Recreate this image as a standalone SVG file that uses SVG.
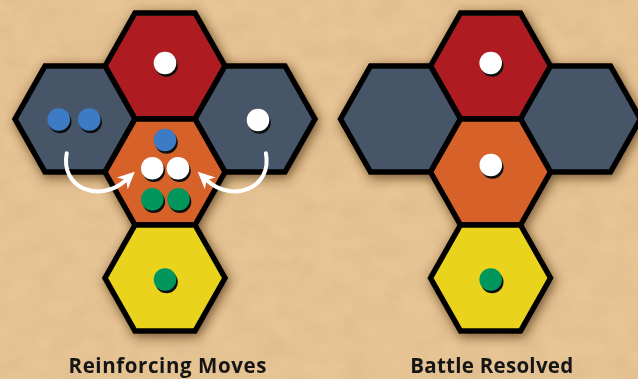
<svg xmlns="http://www.w3.org/2000/svg" xmlns:xlink="http://www.w3.org/1999/xlink" width="638" height="379" viewBox="0 0 638 379">
  <style>
    .hex { stroke: #000; stroke-width: 5.5; stroke-linejoin: miter; }
    .red { fill: #ae1f24; }
    .grey { fill: #475467; }
    .orange { fill: #d6622a; }
    .yellow { fill: #e9d31b; }
    .arrow { fill: none; stroke: #fff; stroke-width: 4; stroke-linecap: round; }
    .label { font-family: "Open Sans", "Liberation Sans", sans-serif; font-weight: 700; font-size: 20.5px; fill: #151515; text-anchor: middle; }
  </style>
  <defs>
    <path id="hexshape" d="M-60,0 L-30,-53 L30,-53 L60,0 L30,53 L-30,53 Z"/>
    <g id="dotWhite"><circle cx="1.5" cy="2.5" r="11.3" fill="#111"/><circle r="11.3" fill="#fff"/></g>
    <g id="dotBlue"><circle cx="1.5" cy="2.5" r="11.3" fill="#111"/><circle r="11.3" fill="#3d7cc4"/></g>
    <g id="dotGreen"><circle cx="1.5" cy="2.5" r="11.3" fill="#111"/><circle r="11.3" fill="#00965c"/></g>
    <marker id="head" markerUnits="userSpaceOnUse" markerWidth="20" markerHeight="20" viewBox="0 -10 20 20" refX="5" refY="0" orient="auto" overflow="visible">
      <path d="M0,-8 L17,0 L0,8 L5,0 Z" fill="#fff"/>
    </marker>
    <filter id="shadow" x="-20%" y="-20%" width="140%" height="140%">
      <feDropShadow dx="2" dy="3" stdDeviation="6" flood-color="#4a2e12" flood-opacity="0.75"/>
    </filter>
    <filter id="paper" x="0" y="0" width="100%" height="100%">
      <feTurbulence type="fractalNoise" baseFrequency="0.035 0.05" numOctaves="3" seed="7" result="n"/>
      <feColorMatrix in="n" type="matrix" values="0 0 0 0 0.55  0 0 0 0 0.38  0 0 0 0 0.2  0 0 0 0.45 -0.12" result="c"/>
      <feComposite in="c" in2="SourceGraphic" operator="in"/>
    </filter>
  </defs>

  <rect width="638" height="379" fill="#e8c595"/>
  <rect width="638" height="379" fill="#e8c595" filter="url(#paper)" opacity="0.8"/>

  <g id="cluster-left" filter="url(#shadow)">
    <g id="L-red"><use href="#hexshape" x="165" y="66" class="hex red"/><use href="#dotWhite" x="165" y="63"/></g>
    <g id="L-grey-left"><use href="#hexshape" x="75" y="119" class="hex grey"/><use href="#dotBlue" x="58.7" y="119.5"/><use href="#dotBlue" x="89.2" y="119.5"/></g>
    <g id="L-grey-right"><use href="#hexshape" x="255" y="119" class="hex grey"/><use href="#dotWhite" x="258" y="120"/></g>
    <g id="L-orange"><use href="#hexshape" x="165" y="172" class="hex orange"/><use href="#dotBlue" x="165" y="140"/><use href="#dotWhite" x="152.3" y="168.3"/><use href="#dotWhite" x="178" y="168.3"/><use href="#dotGreen" x="152.3" y="199.3"/><use href="#dotGreen" x="178.5" y="199.3"/></g>
    <g id="L-yellow"><use href="#hexshape" x="165" y="278" class="hex yellow"/><use href="#dotGreen" x="165" y="279.5"/></g>
  </g>

  <g id="cluster-right" filter="url(#shadow)">
    <g id="R-red"><use href="#hexshape" x="490.5" y="66" class="hex red"/><use href="#dotWhite" x="490.7" y="63"/></g>
    <g id="R-grey-left"><use href="#hexshape" x="400.5" y="119" class="hex grey"/></g>
    <g id="R-grey-right"><use href="#hexshape" x="580.5" y="119" class="hex grey"/></g>
    <g id="R-orange"><use href="#hexshape" x="490.5" y="172" class="hex orange"/><use href="#dotWhite" x="490.8" y="165"/></g>
    <g id="R-yellow"><use href="#hexshape" x="490.5" y="278" class="hex yellow"/><use href="#dotGreen" x="490.7" y="279.5"/></g>
  </g>

  <g id="connectors">
    <path class="arrow" d="M66.7,153.3 C60,188 100,204 126,180" marker-end="url(#head)"/>
    <path class="arrow" d="M265.9,153.3 C272.6,188 232.6,204 206.6,180" marker-end="url(#head)"/>
  </g>

  <g id="labels">
    <text class="label" x="167.5" y="373.3" textLength="198" lengthAdjust="spacing">Reinforcing Moves</text>
    <text class="label" x="491.7" y="373.3" textLength="163" lengthAdjust="spacing">Battle Resolved</text>
  </g>
</svg>
